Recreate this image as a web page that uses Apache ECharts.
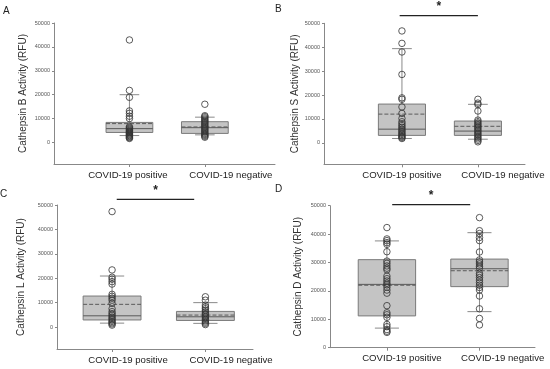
<!DOCTYPE html>
<html>
<head>
<meta charset="utf-8">
<script src="https://cdn.jsdelivr.net/npm/echarts@6/dist/echarts.min.js"></script>
<style>html,body{margin:0;padding:0;background:#fff}#c{width:550px;height:369px}</style>
</head>
<body>
<div id="c"></div>
<script>
const categories = ['COVID-19 positive', 'COVID-19 negative'];
const yTickLabels = [0, 10000, 20000, 30000, 40000, 50000];
const panelLetters = ['A', 'B', 'C', 'D'];
const axisNames = ['Cathepsin B Activity (RFU)', 'Cathepsin S Activity (RFU)', 'Cathepsin L Activity (RFU)', 'Cathepsin D Activity (RFU)'];

// Raw points per panel / group
const catB_pos = [42900, 21800, 18900, 13200, 12200, 11000, 10000, 6600, 6200, 5800, 5400, 5000, 4700, 4400, 4100, 3800, 3500, 3200, 2900, 2600, 2300, 2000, 1700];
const catB_neg = [16000, 11200, 10800, 10300, 9800, 9300, 8800, 8300, 7800, 7300, 6800, 6300, 5800, 5300, 4800, 4300, 3800, 3400, 3000, 2600, 2200];
const catS_pos = [46800, 41600, 38000, 28600, 18800, 18200, 15000, 12300, 10200, 8800, 8000, 7200, 6500, 5800, 5200, 4600, 4000, 3500, 3000, 2600, 2200, 1800];
const catS_neg = [18200, 16600, 16000, 13300, 9500, 8800, 8200, 7600, 7000, 6400, 5800, 5200, 4600, 4000, 3400, 2800, 2200, 1600, 1000, 400];
const catL_pos = [47300, 23400, 20400, 19600, 18600, 17600, 13400, 12600, 11800, 11000, 9700, 7500, 6300, 5500, 4800, 4100, 3500, 2900, 2300, 1800, 1300, 800];
const catL_neg = [12400, 11000, 9000, 8200, 7500, 6800, 6100, 5500, 4900, 4300, 3700, 3100, 2500, 2000, 1500, 1000];
const catD_pos = [42300, 38300, 37700, 37000, 36400, 33800, 30500, 29700, 28800, 28000, 27400, 25200, 24300, 23500, 22700, 22100, 21300, 20300, 19200, 14800, 12300, 11600, 10700, 8200, 7400, 6400, 5800, 5400];
const catD_neg = [45800, 41200, 40200, 38800, 37700, 33700, 30900, 30200, 29500, 28700, 28000, 26200, 25500, 24700, 23800, 22900, 22000, 21200, 20300, 18200, 13700, 10300, 8000];

// Box stats: [whiskerLow, Q1, median, Q3, whiskerHigh, mean]
const statB_pos = [2900, 4200, 5800, 8400, 20000, 7900];
const statB_neg = [3200, 3800, 6200, 8700, 10600, 6500];
const statS_pos = [1800, 3100, 5700, 16200, 39400, 12000];
const statS_neg = [1500, 3100, 4900, 9100, 16100, 6900];
const statL_pos = [1600, 2900, 4600, 12700, 20900, 9300];
const statL_neg = [1500, 2700, 4200, 6400, 10000, 4900];
const statD_pos = [6900, 11200, 22300, 31000, 37600, 22000];
const statD_neg = [12700, 21500, 27800, 31200, 40500, 27100];

// significance brackets: [xStart, xEnd, yValue] (null = none)
const sigB = null;
const sigS = [0.97, 2.0, 53200];
const sigL = [1.05, 1.88, 52300];
const sigD = [1.057, 1.9, 50350];

const panels = [
  {pos: catB_pos, neg: catB_neg, sp: statB_pos, sn: statB_neg, sig: sigB},
  {pos: catS_pos, neg: catS_neg, sp: statS_pos, sn: statS_neg, sig: sigS},
  {pos: catL_pos, neg: catL_neg, sp: statL_pos, sn: statL_neg, sig: sigL},
  {pos: catD_pos, neg: catD_neg, sp: statD_pos, sn: statD_neg, sig: sigD}
];

// layout (labelAt = where the category text is centred on the x scale)
const layout = [
  {left: 54, top: 23, width: 221, height: 141, xmin: 0, xmax: 2.93, ymin: -9000, nameGap: 26, lx: 3, ly: 6, labelAt: [0.98, 2.344]},
  {left: 324, top: 23.3, width: 201, height: 141, xmin: -0.026, xmax: 2.62, ymin: -9000, nameGap: 24, lx: 275, ly: 4, labelAt: [1.0, 2.329]},
  {left: 57, top: 205, width: 196, height: 144, xmin: 0.41, xmax: 2.51, ymin: -9000, nameGap: 31, lx: 0, ly: 189, labelAt: [1.171, 2.275]},
  {left: 330, top: 205.7, width: 205, height: 142, xmin: 0.385, xmax: 2.6, ymin: 0, nameGap: 27, lx: 275, ly: 184, labelAt: [1.162, 2.251]}
];

const FONT = 'Liberation Sans, Arial, sans-serif';
const grids = [], xAxes = [], yAxes = [], series = [], titles = [];

function renderBox(params, api) {
  const x = api.value(0);
  const low = api.value(1), q1 = api.value(2), med = api.value(3), q3 = api.value(4), high = api.value(5), mean = api.value(6);
  const hw = 0.31, cw = 0.13;
  const P = (a, b) => api.coord([a, b]);
  const wStyle = {stroke: '#8a8a8a', lineWidth: 1};
  const line = (p1, p2, style) => ({type: 'line', shape: {x1: p1[0], y1: p1[1], x2: p2[0], y2: p2[1]}, style: style});
  const tl = P(x - hw, q3), br = P(x + hw, q1);
  return {
    type: 'group',
    children: [
      line(P(x, q3), P(x, high), wStyle),
      line(P(x, q1), P(x, low), wStyle),
      line(P(x - cw, high), P(x + cw, high), wStyle),
      line(P(x - cw, low), P(x + cw, low), wStyle),
      {type: 'rect', shape: {x: tl[0], y: tl[1], width: br[0] - tl[0], height: br[1] - tl[1]}, style: {fill: '#c4c4c4', stroke: '#7a7a7a', lineWidth: 1}},
      line(P(x - hw, med), P(x + hw, med), {stroke: '#5a5a5a', lineWidth: 1}),
      line(P(x - hw, mean), P(x + hw, mean), {stroke: '#5a5a5a', lineWidth: 1, lineDash: [4, 2]})
    ]
  };
}

function renderSig(params, api) {
  const a = api.coord([api.value(0), api.value(2)]);
  const b = api.coord([api.value(1), api.value(2)]);
  return {
    type: 'group',
    children: [
      {type: 'line', shape: {x1: a[0], y1: a[1], x2: b[0], y2: b[1]}, style: {stroke: '#222', lineWidth: 1.3}},
      {type: 'text', x: (a[0] + b[0]) / 2, y: a[1] - 3, style: {text: '*', fill: '#222', font: 'bold 12px ' + FONT, textAlign: 'center', textVerticalAlign: 'bottom'}}
    ]
  };
}

panels.forEach((p, i) => {
  const L = layout[i];
  grids.push({left: L.left, top: L.top, width: L.width, height: L.height});
  xAxes.push({
    type: 'value', gridIndex: i, min: L.xmin, max: L.xmax,
    splitLine: {show: false},
    axisLine: {show: true, onZero: false, lineStyle: {color: '#888', width: 1}},
    axisTick: {show: true, customValues: [1, 2], length: 3, lineStyle: {color: '#888'}},
    axisLabel: {customValues: L.labelAt, formatter: (v, idx) => categories[L.labelAt.indexOf(v) >= 0 ? L.labelAt.indexOf(v) : idx],
      fontSize: 9.6, color: '#222', fontFamily: FONT, margin: 6,
      showMinLabel: true, showMaxLabel: true, hideOverlap: false}
  });
  yAxes.push({
    type: 'value', gridIndex: i, min: L.ymin, max: 50000,
    name: axisNames[i], nameLocation: 'middle', nameGap: L.nameGap,
    nameTextStyle: {fontSize: 10, color: '#333', fontFamily: FONT},
    splitLine: {show: false},
    axisLine: {show: true, onZero: false, lineStyle: {color: '#888', width: 1}},
    axisTick: {show: true, customValues: yTickLabels, length: 2, lineStyle: {color: '#888'}},
    axisLabel: {customValues: yTickLabels, formatter: v => String(v), fontSize: 5.5, color: '#555', fontFamily: FONT, margin: 4}
  });
  titles.push({text: panelLetters[i], left: L.lx, top: L.ly, padding: 0, textStyle: {fontSize: 10, fontWeight: 'normal', color: '#222', fontFamily: FONT}});
  series.push({
    type: 'custom', xAxisIndex: i, yAxisIndex: i, renderItem: renderBox, z: 1, silent: true,
    data: [[1].concat(p.sp), [2].concat(p.sn)]
  });
  series.push({
    type: 'scatter', xAxisIndex: i, yAxisIndex: i, z: 3, silent: true,
    symbol: 'circle', symbolSize: 6.5,
    itemStyle: {color: 'rgba(255,255,255,0)', borderColor: '#333', borderWidth: 1},
    data: p.pos.map(v => [1, v]).concat(p.neg.map(v => [2, v]))
  });
  if (p.sig) {
    series.push({
      type: 'custom', xAxisIndex: i, yAxisIndex: i, renderItem: renderSig, z: 4, silent: true, clip: false,
      data: [p.sig]
    });
  }
});

const chart = echarts.init(document.getElementById('c'), null, {renderer: 'canvas'});
chart.setOption({
  animation: false,
  backgroundColor: '#fff',
  title: titles,
  grid: grids,
  xAxis: xAxes,
  yAxis: yAxes,
  series: series
});
</script>
</body>
</html>
